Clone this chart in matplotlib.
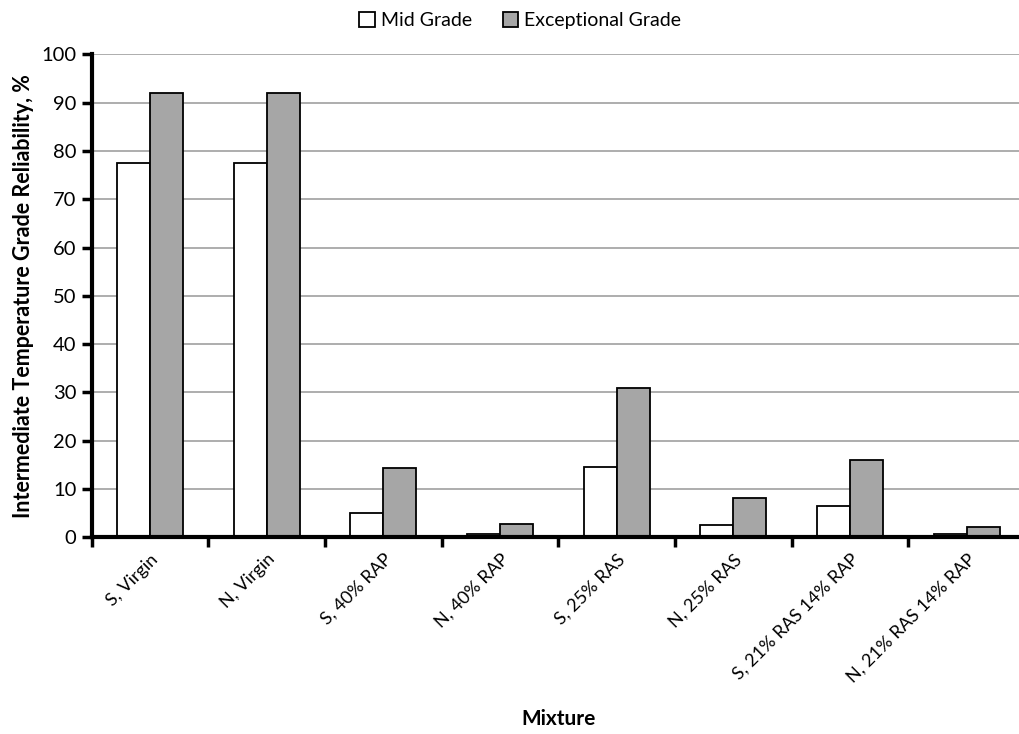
import matplotlib
matplotlib.use("Agg")
import matplotlib.pyplot as plt
import numpy as np

plt.rcParams['font.family'] = ['Lato', 'DejaVu Sans']

mixtures = ["S, Virgin", "N, Virgin", "S, 40% RAP", "N, 40% RAP",
            "S, 25% RAS", "N, 25% RAS", "S, 21% RAS 14% RAP", "N, 21% RAS 14% RAP"]
mid_grade = [77.4, 77.4, 5.0, 0.7, 14.6, 2.5, 6.4, 0.6]
exceptional_grade = [92.0, 92.0, 14.3, 2.8, 30.9, 8.1, 16.0, 2.1]
y_ticks = [0, 10, 20, 30, 40, 50, 60, 70, 80, 90, 100]

fig = plt.figure(figsize=(10.2, 7.34), dpi=100)
ax = fig.add_axes([0.090, 0.268, 0.915, 0.658])

x = np.arange(len(mixtures))
w = 0.283
ax.bar(x - w / 2, mid_grade, w, color="white", edgecolor="black", linewidth=1.3,
       label="Mid Grade", zorder=3)
ax.bar(x + w / 2, exceptional_grade, w, color="#a6a6a6", edgecolor="black", linewidth=1.3,
       label="Exceptional Grade", zorder=3)

ax.set_xlim(-0.5, len(mixtures) - 0.5)
ax.set_ylim(0, 100)
ax.set_yticks(y_ticks)
ax.yaxis.grid(True, color="#a0a0a0", linewidth=1.2, zorder=0)
ax.set_axisbelow(True)

for s in ("top", "right"):
    ax.spines[s].set_visible(False)
for s in ("left", "bottom"):
    ax.spines[s].set_linewidth(3)
    ax.spines[s].set_zorder(4)

# category labels centered, tick marks at category boundaries
ax.set_xticks(x)
ax.set_xticklabels(mixtures, rotation=45, ha="right", rotation_mode="anchor", fontsize=13)
ax.tick_params(axis="x", which="major", length=0, pad=10)
ax.set_xticks(np.arange(len(mixtures) + 1) - 0.5, minor=True)
ax.tick_params(axis="x", which="minor", length=7, width=2.5, direction="out")
ax.tick_params(axis="y", length=7, width=2.5, direction="out", labelsize=14.5, pad=4)

ax.set_ylabel("Intermediate Temperature Grade Reliability, %", fontsize=15.5,
              fontweight="bold", labelpad=5)
ax.set_xlabel("Mixture", fontsize=15, fontweight="bold")
ax.xaxis.set_label_coords(0.5, -0.355)

fig.legend(loc="upper center", bbox_to_anchor=(0.51, 1.008), ncol=2, frameon=False,
           fontsize=14, handlelength=0.8, handleheight=0.8, handletextpad=0.3,
           columnspacing=1.6)

fig.savefig("out.png", dpi=100)
